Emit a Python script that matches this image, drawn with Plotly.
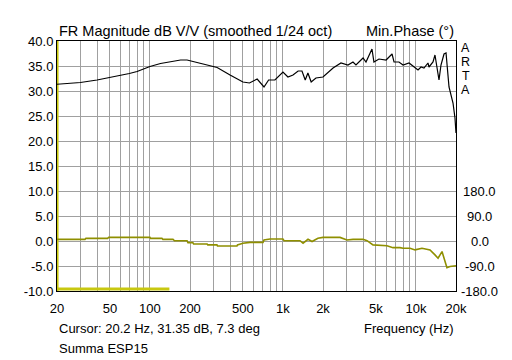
import plotly.graph_objects as go

# ---- data ----
mag_freq = [20, 25, 30, 40, 50, 60, 70, 80, 100, 120, 150, 170, 190, 220, 270, 320,
            400, 500, 560, 640, 720, 780, 870, 1000, 1090, 1190, 1300, 1390, 1470,
            1540, 1630, 1770, 2000, 2380, 2730, 3080, 3360, 3540, 4000, 4210, 4670,
            4830, 5270, 5960, 6610, 6840, 7450, 8000, 8870, 9670, 10360, 10920,
            11490, 12310, 12530, 13430, 13900, 14900, 15420, 16250, 16830, 17720,
            18990, 19650, 20000]
mag_db = [31.35, 31.5, 31.7, 32.2, 32.7, 33.1, 33.5, 33.9, 34.9, 35.5, 36.0, 36.2,
          36.2, 35.8, 35.1, 34.7, 33.2, 31.8, 31.6, 32.4, 30.8, 32.2, 32.2, 33.8,
          32.8, 33.2, 34.0, 34.0, 32.2, 33.6, 31.8, 32.6, 32.8, 34.6, 35.6, 35.2,
          35.8, 35.2, 36.6, 35.8, 38.4, 35.8, 36.4, 36.2, 37.4, 35.8, 35.8, 35.2,
          35.6, 34.8, 34.2, 34.8, 34.6, 35.6, 34.8, 35.8, 37.2, 32.2, 35.2, 37.4,
          37.6, 30.8, 27.6, 24.6, 21.6]

ph_freq = [20, 32.5, 33, 48, 49, 100, 101, 123, 125, 149, 153, 190, 193, 210, 213,
           269, 272, 319, 322, 451, 455, 500, 565, 708, 720, 800, 1000, 1020, 1343,
           1416, 1543, 1654, 1832, 2000, 2686, 3028, 3363, 4000, 4289, 4750, 6052,
           6718, 7580, 7998, 9020, 9840, 11100, 12760, 13900, 14660, 15700, 17100,
           18020, 20000]
ph_deg = [6, 6, 9.6, 9.6, 13, 13, 9.6, 9.6, 6, 6, 1, 1, -6, -6, -11, -11, -14, -14,
          -18, -18, -14, -8, -5, -5, 3.6, 7, 7, 1, 1, -8, 6, -2, 9.6, 13, 13, 3.6,
          6, 6, 1, -14, -17, -24, -24, -26, -26, -32, -26, -32, -50, -62, -38, -96,
          -92, -89]

bar_freq = [20, 140]
bar_db = [-9.6, -9.6]

cursor_freq = 20.2
cursor_text = "Cursor: 20.2 Hz, 31.35 dB, 7.3 deg"

x_tickvals = [20, 50, 100, 200, 500, 1000, 2000, 5000, 10000, 20000]
x_ticktext = ["20", "50", "100", "200", "500", "1k", "2k", "5k", "10k", "20k"]
x_minor = [30, 40, 60, 70, 80, 90, 300, 400, 600, 700, 800, 900,
           3000, 4000, 6000, 7000, 8000, 9000]
y_tickvals = [-10, -5, 0, 5, 10, 15, 20, 25, 30, 35, 40]
y_ticktext = ["-10.0", "-5.0", "0.0", "5.0", "10.0", "15.0", "20.0", "25.0",
              "30.0", "35.0", "40.0"]
ph_tickvals = [180, 90, 0, -90, -180]
ph_ticktext = ["180.0", "90.0", "0.0", "-90.0", "-180.0"]
side_letters = ["A", "R", "T", "A"]

FONT = "Liberation Sans, Arial, sans-serif"
GRID = "#a0a0a0"
YEL = "#c8c810"
OLIVE = "#8f8f00"

fig = go.Figure()
fig.add_trace(go.Scatter(x=[cursor_freq, cursor_freq], y=[-10, 40], mode="lines",
                         line=dict(color=YEL, width=2), hoverinfo="skip"))
fig.add_trace(go.Scatter(x=bar_freq, y=bar_db, mode="lines",
                         line=dict(color=YEL, width=3), hoverinfo="skip"))
fig.add_trace(go.Scatter(x=ph_freq, y=ph_deg, mode="lines", yaxis="y2",
                         line=dict(color=OLIVE, width=1.6)))
fig.add_trace(go.Scatter(x=mag_freq, y=mag_db, mode="lines",
                         line=dict(color="black", width=1.2)))

# page body has an 8px margin, so the figure is 8px smaller than the window
fig.update_layout(
    width=504, height=352,
    margin=dict(l=49, r=56, t=33, b=69),
    paper_bgcolor="white", plot_bgcolor="white",
    showlegend=False,
    font=dict(family=FONT, size=13, color="black"),
    xaxis=dict(type="log", range=[1.30103, 4.30103], tickvals=x_tickvals,
               ticktext=x_ticktext, showgrid=True, gridcolor=GRID, gridwidth=1,
               minor=dict(tickvals=x_minor, showgrid=True, gridcolor=GRID,
                          gridwidth=1, ticks=""),
               showline=True, linecolor="black", linewidth=1, mirror=True,
               ticks="", zeroline=False, tickfont=dict(size=13),
               ticklabelstandoff=5),
    yaxis=dict(range=[-10, 40], tickvals=y_tickvals, ticktext=y_ticktext,
               showgrid=True, gridcolor=GRID, gridwidth=1, zeroline=False,
               showline=True, linecolor="black", linewidth=1, mirror=True,
               ticks="", layer="below traces", tickfont=dict(size=13)),
    yaxis2=dict(range=[-180, 720], overlaying="y", side="right",
                showticklabels=False, showgrid=False, zeroline=False, ticks=""),
)

ann = []
ann.append(dict(text="FR Magnitude dB V/V (smoothed 1/24 oct)", xref="paper", yref="paper",
                x=0, y=1, xanchor="left", yanchor="bottom", yshift=0, showarrow=False,
                font=dict(size=14.5)))
ann.append(dict(text="Min.Phase (°)", xref="paper", yref="paper",
                x=1, y=1, xanchor="right", yanchor="bottom", yshift=0, showarrow=False,
                font=dict(size=14.5)))
for i, letter in enumerate(side_letters):
    ann.append(dict(text=letter, xref="paper", yref="paper",
                    x=1.025, y=1.0, yshift=-7 - 14 * i, xanchor="center",
                    yanchor="middle", showarrow=False, font=dict(size=12.5)))
for v, t in zip(ph_tickvals, ph_ticktext):
    ann.append(dict(text=t, xref="paper", yref="y2", x=1.06, y=v,
                    xanchor="center", yanchor="middle", showarrow=False))
ann.append(dict(text=cursor_text, xref="paper", yref="paper", x=0, y=-0.148,
                xanchor="left", yanchor="middle", showarrow=False))
ann.append(dict(text="Summa ESP15", xref="paper", yref="paper", x=0, y=-0.228,
                xanchor="left", yanchor="middle", showarrow=False))
ann.append(dict(text="Frequency (Hz)", xref="paper", yref="paper", x=1, y=-0.148,
                xanchor="right", yanchor="middle", showarrow=False))
fig.update_layout(annotations=ann)

fig.write_html("out.html")
